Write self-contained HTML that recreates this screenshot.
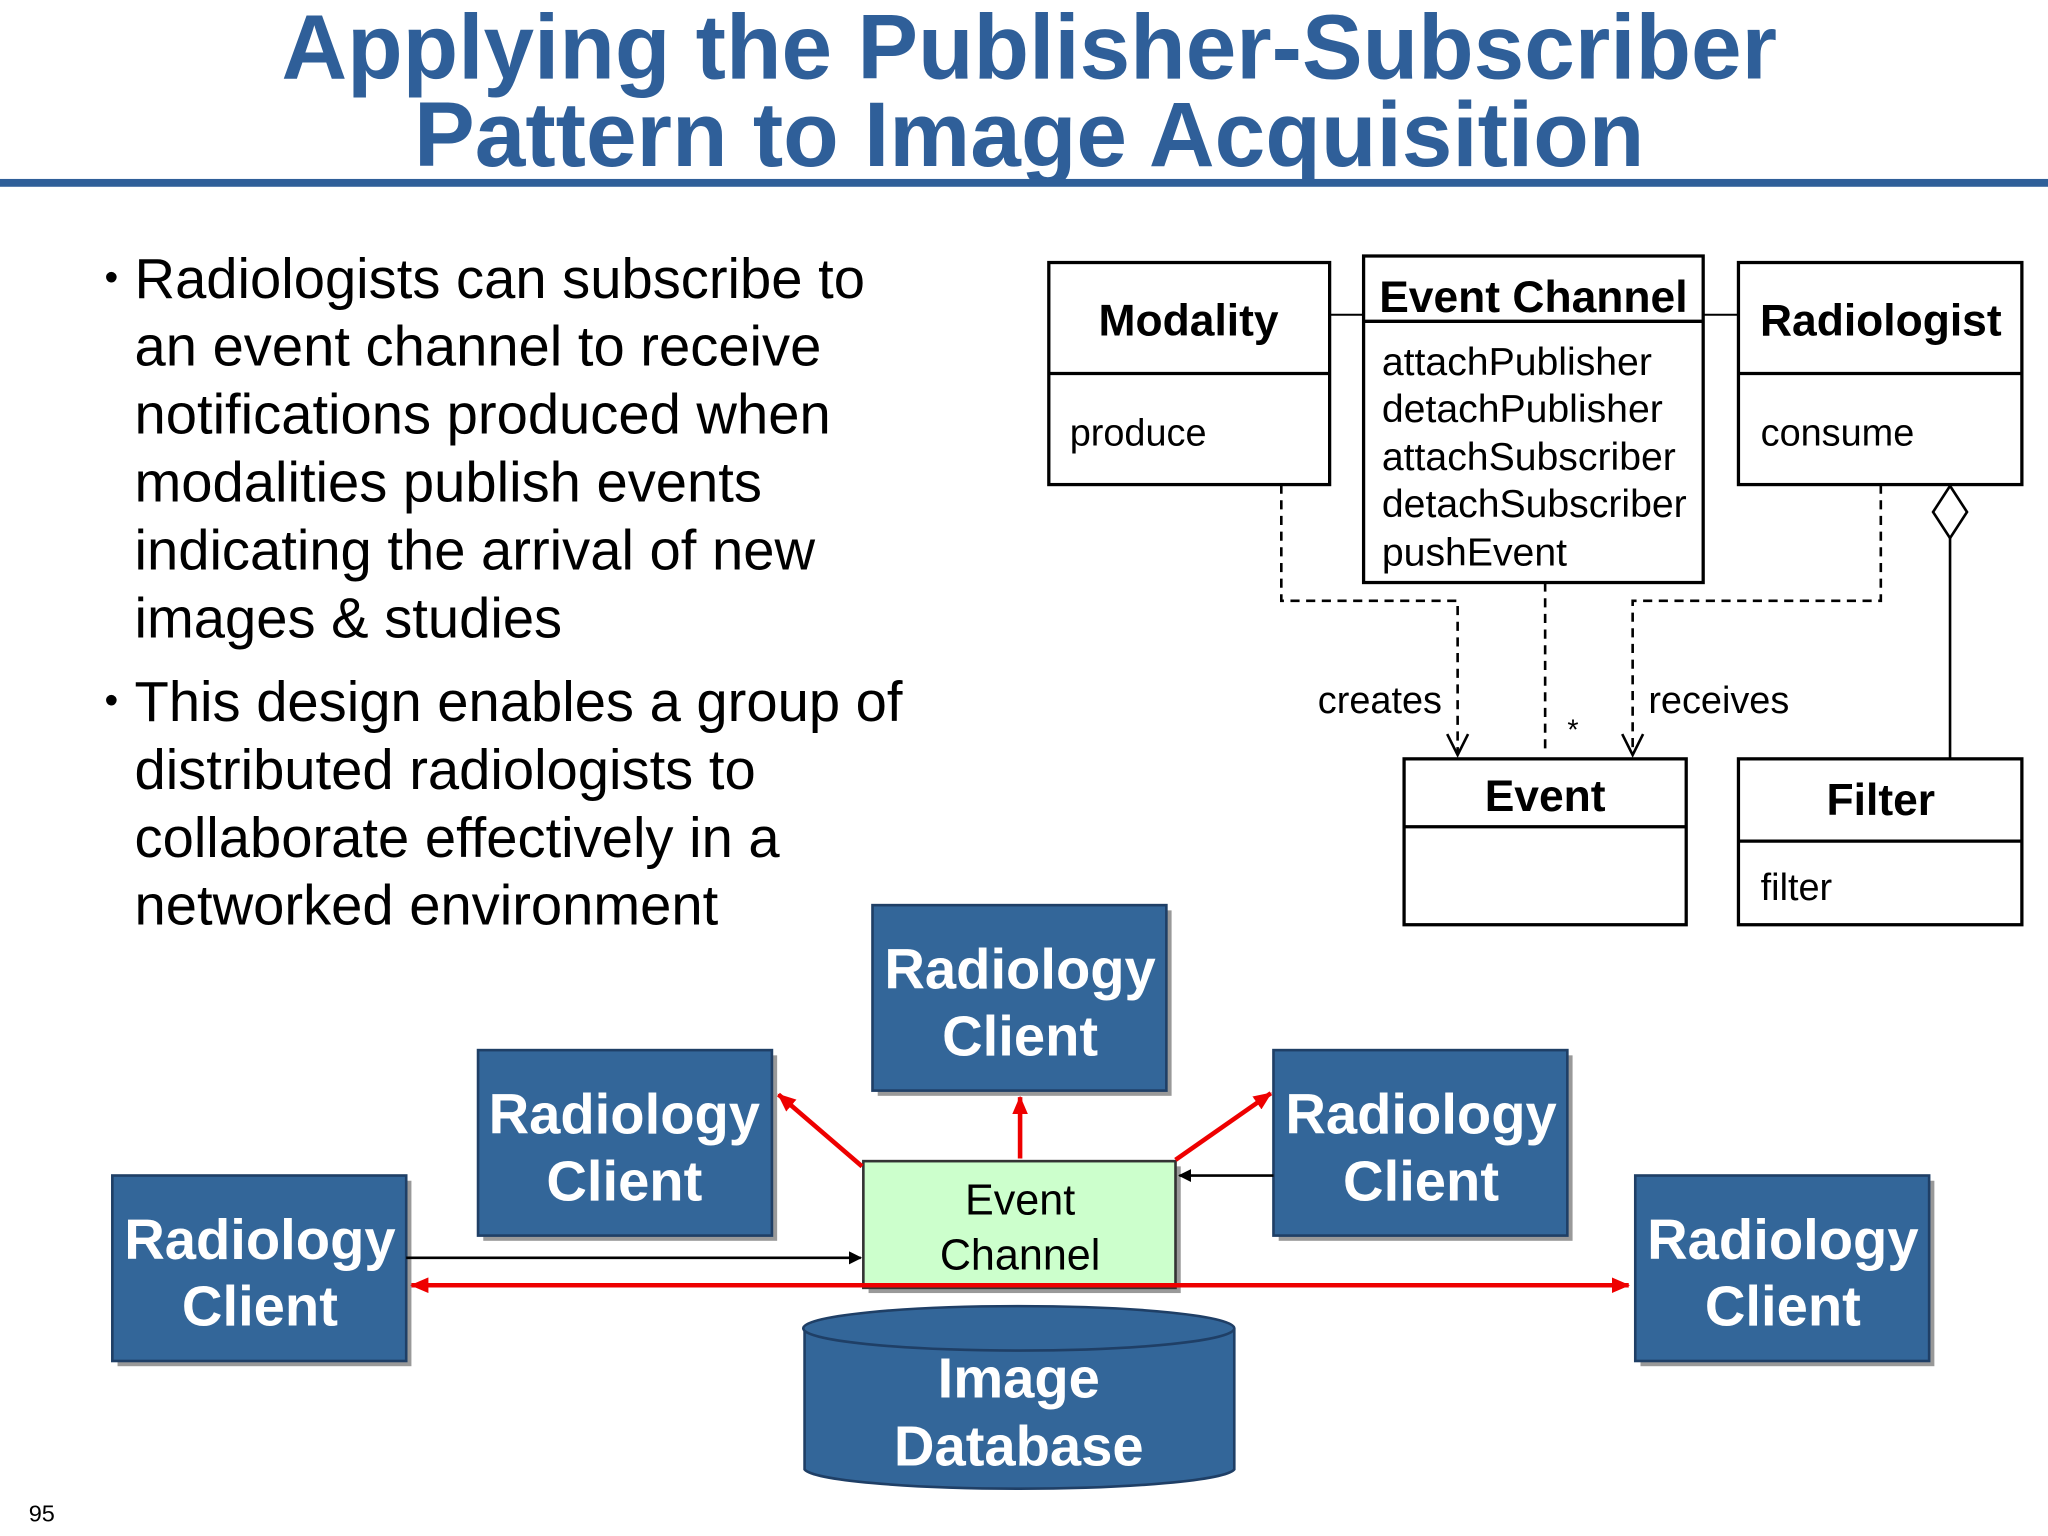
<!DOCTYPE html>
<html><head><meta charset="utf-8"><style>
html,body{margin:0;padding:0;background:#fff;}
svg{display:block;}
text{font-family:"Liberation Sans",Arial,sans-serif;}
</style></head><body>
<svg width="2048" height="1536" viewBox="0 0 1568 1176" xmlns="http://www.w3.org/2000/svg">
<defs>
<marker id="ra" markerWidth="14" markerHeight="12" refX="13" refY="6" orient="auto" markerUnits="userSpaceOnUse"><path d="M0,0 L14,6 L0,12 z" fill="#ee0000"/></marker>
<marker id="ka" markerWidth="10" markerHeight="10" refX="9" refY="5" orient="auto" markerUnits="userSpaceOnUse"><path d="M0,0 L10,5 L0,10 z" fill="#000"/></marker>
</defs>
<rect width="1568" height="1176" fill="#fff"/>
<g fill="#2f5f99" font-weight="bold" font-size="70" text-anchor="middle">
<text x="788" y="60" textLength="1145" lengthAdjust="spacingAndGlyphs">Applying the Publisher-Subscriber</text>
<text x="788" y="127" textLength="942" lengthAdjust="spacingAndGlyphs">Pattern to Image Acquisition</text>
</g>
<rect x="0" y="137" width="1568" height="6" fill="#2f5f99"/>
<g font-size="43" fill="#000">
<text x="80" y="222" font-size="30">•</text>
<text x="103" y="228">Radiologists can subscribe to</text>
<text x="103" y="280">an event channel to receive</text>
<text x="103" y="332">notifications produced when</text>
<text x="103" y="384">modalities publish events</text>
<text x="103" y="436">indicating the arrival of new</text>
<text x="103" y="488">images &amp; studies</text>
<text x="80" y="546" font-size="30">•</text>
<text x="103" y="552">This design enables a group of</text>
<text x="103" y="604">distributed radiologists to</text>
<text x="103" y="656">collaborate effectively in a</text>
<text x="103" y="708">networked environment</text>
</g>
<g stroke="#000" stroke-width="2.5" fill="#fff">
<rect x="803" y="201" width="215" height="170"/><line x1="803" y1="286" x2="1018" y2="286"/>
<rect x="1044" y="196" width="260" height="250"/><line x1="1044" y1="246" x2="1304" y2="246"/>
<rect x="1331" y="201" width="217" height="170"/><line x1="1331" y1="286" x2="1548" y2="286"/>
<rect x="1075" y="581" width="216" height="127"/><line x1="1075" y1="633" x2="1291" y2="633"/>
<rect x="1331" y="581" width="217" height="127"/><line x1="1331" y1="644" x2="1548" y2="644"/>
<line x1="1018" y1="241" x2="1044" y2="241" stroke-width="1.5"/>
<line x1="1304" y1="241" x2="1331" y2="241" stroke-width="1.5"/>
<line x1="1493" y1="412" x2="1493" y2="581" stroke-width="2"/>
<path d="M1493,372 L1506,392 L1493,412 L1480,392 z" stroke-width="2"/>
</g>
<g stroke="#000" stroke-width="2" fill="none" stroke-dasharray="7,5">
<path d="M981,371 V460 H1116 V576"/>
<path d="M1440,371 V460 H1250 V576"/>
<path d="M1183,446 V576"/>
</g>
<g stroke="#000" stroke-width="2" fill="none">
<path d="M1108,562 L1116,578 L1124,562"/>
<path d="M1242,562 L1250,578 L1258,562"/>
</g>
<g font-weight="bold" font-size="34" text-anchor="middle">
<text x="910" y="257">Modality</text>
<text x="1174" y="239">Event Channel</text>
<text x="1440" y="257">Radiologist</text>
<text x="1183" y="621">Event</text>
<text x="1440" y="624">Filter</text>
</g>
<g font-size="29">
<text x="819" y="341">produce</text>
<text x="1348" y="341">consume</text>
<text x="1348" y="689">filter</text>
<text x="1058" y="287" font-size="30">attachPublisher</text>
<text x="1058" y="323" font-size="30">detachPublisher</text>
<text x="1058" y="360" font-size="30">attachSubscriber</text>
<text x="1058" y="396" font-size="30">detachSubscriber</text>
<text x="1058" y="433" font-size="30">pushEvent</text>
<text x="1104" y="546" text-anchor="end">creates</text>
<text x="1262" y="546">receives</text>
<text x="1200" y="566" font-size="22">*</text>
</g>
<g>
<g fill="#999"><rect x="672" y="697" width="225" height="142"/><rect x="370" y="808" width="225" height="142"/><rect x="979" y="808" width="225" height="142"/><rect x="90" y="904" width="225" height="142"/><rect x="1256" y="904" width="225" height="142"/></g>
<g fill="#336699" stroke="#1f3f66" stroke-width="2"><rect x="668" y="693" width="225" height="142"/><rect x="366" y="804" width="225" height="142"/><rect x="975" y="804" width="225" height="142"/><rect x="86" y="900" width="225" height="142"/><rect x="1252" y="900" width="225" height="142"/></g>
<g fill="#fff" font-weight="bold" font-size="43" text-anchor="middle">
<text x="781" y="757">Radiology</text><text x="781" y="808">Client</text>
<text x="478" y="868">Radiology</text><text x="478" y="919">Client</text>
<text x="1088" y="868">Radiology</text><text x="1088" y="919">Client</text>
<text x="199" y="964">Radiology</text><text x="199" y="1015">Client</text>
<text x="1365" y="964">Radiology</text><text x="1365" y="1015">Client</text>
</g>
</g>
<path d="M616,1017 V1125 A165,16 0 0 0 945,1125 V1017" fill="#336699" stroke="#1f3f66" stroke-width="2"/>
<ellipse cx="780" cy="1017" rx="165" ry="17" fill="#336699" stroke="#1f3f66" stroke-width="2"/>
<g fill="#fff" font-weight="bold" font-size="43" text-anchor="middle"><text x="780" y="1070">Image</text><text x="780" y="1122">Database</text></g>
<rect x="665" y="893" width="239" height="97" fill="#999"/>
<rect x="661" y="889" width="239" height="97" fill="#ccffcc" stroke="#333" stroke-width="2"/>
<g font-size="33" text-anchor="middle"><text x="781" y="930">Event</text><text x="781" y="972">Channel</text></g>
<g stroke="#ee0000" stroke-width="3.5" fill="none">
<line x1="781" y1="887" x2="781" y2="840" marker-end="url(#ra)"/>
<line x1="660" y1="893" x2="596" y2="838" marker-end="url(#ra)"/>
<line x1="900" y1="888" x2="973" y2="837" marker-end="url(#ra)"/>
<line x1="330" y1="984" x2="1247" y2="984" marker-end="url(#ra)"/>
<line x1="340" y1="984" x2="315" y2="984" marker-end="url(#ra)"/>
</g>
<g stroke="#000" stroke-width="2" fill="none">
<line x1="311" y1="963" x2="659" y2="963" marker-end="url(#ka)"/>
<line x1="975" y1="900" x2="903" y2="900" marker-end="url(#ka)"/>
</g>
<text x="22" y="1165" font-size="18">95</text>
</svg>
</body></html>
